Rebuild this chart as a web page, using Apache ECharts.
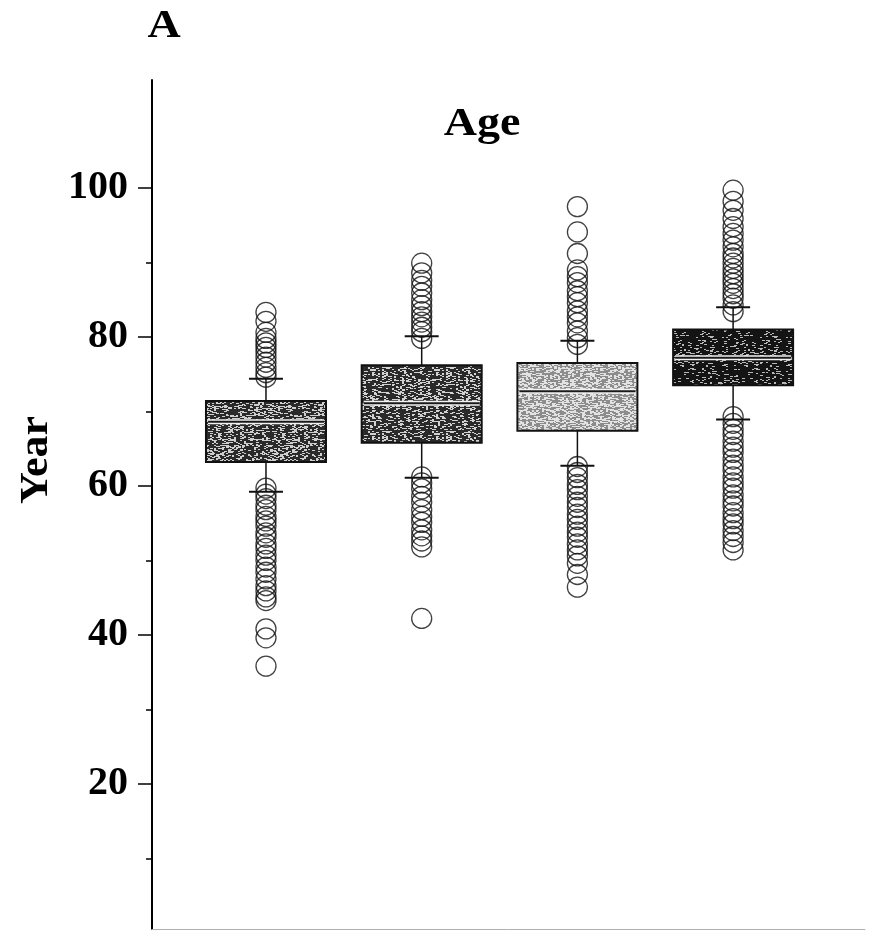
<!DOCTYPE html>
<html>
<head>
<meta charset="utf-8">
<script src="https://cdn.jsdelivr.net/npm/echarts@6/dist/echarts.min.js"></script>
<style>
  html, body { margin: 0; padding: 0; background: #fff; }
  #chart { width: 870px; height: 931px; }
</style>
</head>
<body>
<div id="chart"></div>
<script>
// Four age groups, box statistics in years
const groupIndex   = [0, 1, 2, 3];
const lowerWhisker = [59.2, 61.1, 62.7, 68.9];
const quartile1    = [63.2, 65.8, 67.4, 73.5];
const medians      = [68.6, 71.1, 72.7, 77.2];
const quartile3    = [71.4, 76.2, 76.5, 81.0];
const upperWhisker = [74.4, 80.1, 79.5, 84.0];

// Outlying ages per group
const outliers1 = [83.3, 82.1, 80.6, 79.8, 79.2, 78.6, 78.0, 77.3, 76.6, 75.9, 75.2, 74.6,
  59.7, 58.9, 58.3, 57.4, 56.8, 55.9, 55.3, 54.6, 53.7, 53.1, 52.2, 51.6, 50.7, 50.0,
  49.1, 48.4, 47.5, 46.6, 45.9, 45.1, 44.6, 40.8, 39.6, 35.8];
const outliers2 = [89.9, 88.6, 87.6, 86.8, 85.9, 85.0, 84.2, 83.4, 82.7, 82.0, 81.3, 80.7, 79.8,
  61.2, 60.4, 59.6, 58.6, 57.8, 56.8, 55.9, 55.1, 54.1, 53.3, 52.6, 51.8, 42.2];
const outliers3 = [97.5, 94.1, 91.2, 89.0, 88.1, 87.3, 86.2, 85.4, 84.6, 83.5, 82.7, 81.9, 80.8, 79.9, 79.0,
  62.6, 61.8, 61.1, 60.2, 59.5, 58.6, 57.8, 57.1, 56.2, 55.5, 54.6, 53.8, 53.1, 52.2,
  51.4, 50.6, 49.6, 48.1, 46.4];
const outliers4 = [99.7, 98.2, 97.0, 95.9, 94.8, 93.9, 93.0, 92.1, 91.2, 90.6, 89.9, 89.2, 88.5,
  87.8, 87.2, 86.5, 85.8, 85.2, 84.3, 83.4,
  69.3, 68.4, 67.6, 66.9, 66.0, 65.2, 64.5, 63.6, 62.8, 62.1, 61.2, 60.4, 59.7, 58.8,
  58.0, 57.3, 56.4, 55.6, 54.9, 54.0, 53.2, 52.4, 51.4];

// Axis ticks
const majorTicks = [20, 40, 60, 80, 100];
const minorTicks = [10, 30, 50, 70, 90];

// Speckled print-like fill for the boxes (deterministic noise)
function grain(base, light, share, seed) {
  const cv = document.createElement('canvas');
  cv.width = 64; cv.height = 64;
  const ctx = cv.getContext('2d');
  ctx.fillStyle = base;
  ctx.fillRect(0, 0, 64, 64);
  let s = seed >>> 0;
  const next = () => { s ^= s << 13; s >>>= 0; s ^= s >>> 17; s ^= s << 5; s >>>= 0; return s / 4294967296; };
  ctx.fillStyle = light;
  for (let y = 0; y < 64; y++) {
    for (let x = 0; x < 64; x += 2) {
      if (next() < share) ctx.fillRect(x, y, 2 + (next() < 0.3 ? 1 : 0), 1);
    }
  }
  return { image: cv, repeat: 'repeat' };
}
const boxFills = [
  grain('#2a2a2a', '#cfcfcf', 0.29, 12345),
  grain('#2a2a2a', '#d2d2d2', 0.27, 67890),
  grain('#8c8c8c', '#e2e2e2', 0.45, 24680),
  grain('#141414', '#b8b8b8', 0.14, 13579)
];

const boxData = groupIndex.map((g, k) =>
  [g, lowerWhisker[k], quartile1[k], medians[k], quartile3[k], upperWhisker[k]]);
const outlierGroups = [outliers1, outliers2, outliers3, outliers4];
const outlierData = [];
outlierGroups.forEach((arr, k) => arr.forEach(v => outlierData.push([groupIndex[k], v])));

function renderBox(params, api) {
  const g = api.value(0);
  const x = api.coord([g, api.value(3)])[0];
  const yLw = api.coord([g, api.value(1)])[1];
  const yQ1 = api.coord([g, api.value(2)])[1];
  const yMd = api.coord([g, api.value(3)])[1];
  const yQ3 = api.coord([g, api.value(4)])[1];
  const yUw = api.coord([g, api.value(5)])[1];
  const halfW = 60, capHalf = 17;
  const ink = '#111';
  return {
    type: 'group',
    children: [
      { type: 'line', shape: { x1: x, y1: yQ1, x2: x, y2: yLw }, style: { stroke: ink, lineWidth: 1.5 } },
      { type: 'line', shape: { x1: x, y1: yQ3, x2: x, y2: yUw }, style: { stroke: ink, lineWidth: 1.5 } },
      { type: 'line', shape: { x1: x - capHalf, y1: yLw, x2: x + capHalf, y2: yLw }, style: { stroke: ink, lineWidth: 2 } },
      { type: 'line', shape: { x1: x - capHalf, y1: yUw, x2: x + capHalf, y2: yUw }, style: { stroke: ink, lineWidth: 2 } },
      { type: 'rect', shape: { x: x - halfW, y: yQ3, width: halfW * 2, height: yQ1 - yQ3 },
        style: { fill: boxFills[params.dataIndex], stroke: ink, lineWidth: 2 } },
      { type: 'line', shape: { x1: x - halfW + 2, y1: yMd, x2: x + halfW - 2, y2: yMd }, style: { stroke: '#f2f2f2', lineWidth: 5 } },
      { type: 'line', shape: { x1: x - halfW + 2, y1: yMd, x2: x + halfW - 2, y2: yMd }, style: { stroke: '#1a1a1a', lineWidth: 2 } }
    ]
  };
}

const serif = '"Liberation Serif", "DejaVu Serif", serif';
const chart = echarts.init(document.getElementById('chart'), null, { renderer: 'canvas' });
chart.setOption({
  animation: false,
  backgroundColor: '#fff',
  grid: { left: 152, right: 5, top: 80, bottom: 2 },
  xAxis: {
    type: 'value', min: -0.732, max: 3.847,
    axisLine: { show: true, onZero: false, lineStyle: { color: '#b0b0b0', width: 1 } },
    axisTick: { show: false }, axisLabel: { show: false }, splitLine: { show: false }
  },
  yAxis: [
    {
      type: 'value', min: 0.5, max: 114.5, position: 'left',
      axisLine: { show: true, onZero: false, lineStyle: { color: '#000', width: 2 } },
      axisTick: { show: true, customValues: majorTicks, length: 14, lineStyle: { color: '#000', width: 1.5 } },
      axisLabel: { customValues: majorTicks, margin: 24, color: '#000',
        fontFamily: serif, fontWeight: 'bold', fontSize: 40 },
      splitLine: { show: false }
    },
    {
      type: 'value', min: 0.5, max: 114.5, position: 'left',
      axisLine: { show: false, onZero: false },
      axisTick: { show: true, customValues: minorTicks, length: 6, lineStyle: { color: '#000', width: 1.5 } },
      axisLabel: { show: false }, splitLine: { show: false }
    }
  ],
  graphic: [
    { type: 'text', x: 164, y: 27, scaleX: 1.15, style: { text: 'A', font: 'bold 40px ' + serif, fill: '#000',
      align: 'center', verticalAlign: 'middle', textAlign: 'center', textVerticalAlign: 'middle' } },
    { type: 'text', x: 482, y: 125, scaleX: 1.15, style: { text: 'Age', font: 'bold 40px ' + serif, fill: '#000',
      align: 'center', verticalAlign: 'middle', textAlign: 'center', textVerticalAlign: 'middle' } },
    { type: 'text', x: 37, y: 460, rotation: Math.PI / 2, scaleX: 1.1, style: { text: 'Year', font: 'bold 40px ' + serif, fill: '#000',
      align: 'center', verticalAlign: 'middle', textAlign: 'center', textVerticalAlign: 'middle' } }
  ],
  series: [
    {
      type: 'scatter', xAxisIndex: 0, yAxisIndex: 0, data: outlierData,
      symbol: 'circle', symbolSize: 20, silent: true,
      itemStyle: { color: 'rgba(255,255,255,0)', borderColor: '#111', borderWidth: 1.3 }
    },
    {
      type: 'custom', xAxisIndex: 0, yAxisIndex: 0, data: boxData,
      encode: { x: 0, y: [1, 2, 3, 4, 5] },
      renderItem: renderBox, silent: true
    }
  ]
});
</script>
</body>
</html>
